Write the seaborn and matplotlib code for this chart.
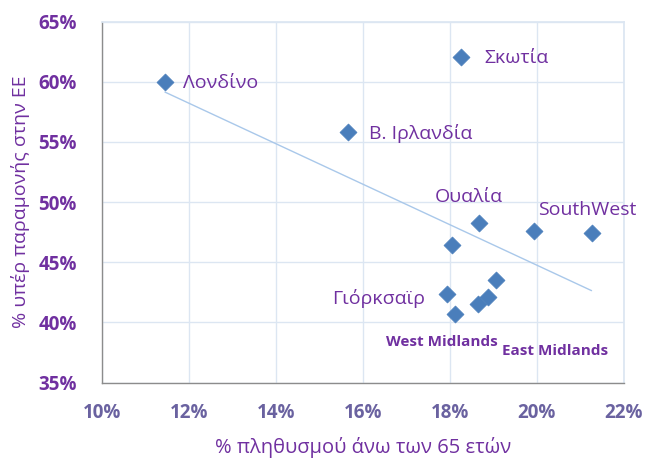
import matplotlib
matplotlib.use("Agg")
import matplotlib.pyplot as plt
import seaborn as sns
import pandas as pd
from matplotlib.ticker import FuncFormatter

# Data
names = ["Λονδίνο", "Σκωτία", "Β. Ιρλανδία", "Ουαλία", "SouthWest", "",
         "", "Γιόρκσαϊρ", "West Midlands", "East Midlands", "", ""]
pct_over65 = [11.45, 18.25, 15.66, 18.67, 19.93, 21.26,
              18.05, 17.93, 18.11, 18.64, 18.87, 19.06]
pct_remain = [60.0, 62.05, 55.8, 48.26, 47.6, 47.43,
              46.43, 42.35, 40.68, 41.53, 42.1, 43.5]
x_ticks = [10, 12, 14, 16, 18, 20, 22]
y_ticks = [35, 40, 45, 50, 55, 60, 65]

df = pd.DataFrame({"name": names, "x": pct_over65, "y": pct_remain})

sns.set_theme(style="white")
plt.rcParams["font.family"] = ["Open Sans", "DejaVu Sans"]

PURPLE = "#7030A0"
XTICK = "#6A62A0"
BLUE = "#4A7EBB"

fig = plt.figure(figsize=(6.45, 4.62), dpi=100)
ax = fig.add_axes([0.158, 0.172, 0.809, 0.781])

sns.regplot(data=df, x="x", y="y", ax=ax, ci=None, scatter=False,
            line_kws={"color": "#A9C8EA", "linewidth": 1.0})
sns.scatterplot(data=df, x="x", y="y", ax=ax, marker="D", s=75,
                color=BLUE, edgecolor=BLUE, linewidth=0.5, zorder=3)

ax.set_xlim(10, 22)
ax.set_ylim(35, 65)
ax.set_xticks(x_ticks)
ax.set_yticks(y_ticks)
ax.xaxis.set_major_formatter(FuncFormatter(lambda v, p: f"{v:.0f}%"))
ax.yaxis.set_major_formatter(FuncFormatter(lambda v, p: f"{v:.0f}%"))
ax.grid(True, color="#DCE6F2", linewidth=1.0)
ax.set_axisbelow(True)
for s in ["top", "right"]:
    ax.spines[s].set_color("#DCE6F2")
for s in ["left", "bottom"]:
    ax.spines[s].set_color("#8C8C8C")
    ax.spines[s].set_linewidth(1.0)
ax.tick_params(axis="x", colors=XTICK, labelsize=13.5, length=0, pad=15)
ax.tick_params(axis="y", colors=PURPLE, labelsize=13.5, length=0, pad=18)
for t in ax.xaxis.get_major_ticks() + ax.yaxis.get_major_ticks():
    t.label1.set_fontweight("bold")

ax.set_xlabel("% πληθυσμού άνω των 65 ετών", color=PURPLE, fontsize=14.5, labelpad=10)
ax.set_ylabel("% υπέρ παραμονής στην ΕΕ", color=PURPLE, fontsize=14, labelpad=6)

# label offsets (pixels) and styles
offsets = {
    "Λονδίνο": (18, -1, "left", 14, "normal"),
    "Σκωτία": (24, -1, "left", 14, "normal"),
    "Β. Ιρλανδία": (21, -1, "left", 14, "normal"),
    "Ουαλία": (-10, 26, "center", 14, "normal"),
    "SouthWest": (4, 21, "left", 14, "normal"),
    "Γιόρκσαϊρ": (-22, -4, "right", 14, "normal"),
    "West Midlands": (-13, -28, "center", 11, "bold"),
    "East Midlands": (77, -47, "center", 11, "bold"),
}
for _, row in df.iterrows():
    if row["name"] in offsets:
        dx, dy, ha, fs, fw = offsets[row["name"]]
        ax.annotate(row["name"], (row["x"], row["y"]), xytext=(dx, dy),
                    textcoords="offset pixels", ha=ha, va="center",
                    color=PURPLE, fontsize=fs, fontweight=fw)

fig.savefig("out.png", dpi=100)
